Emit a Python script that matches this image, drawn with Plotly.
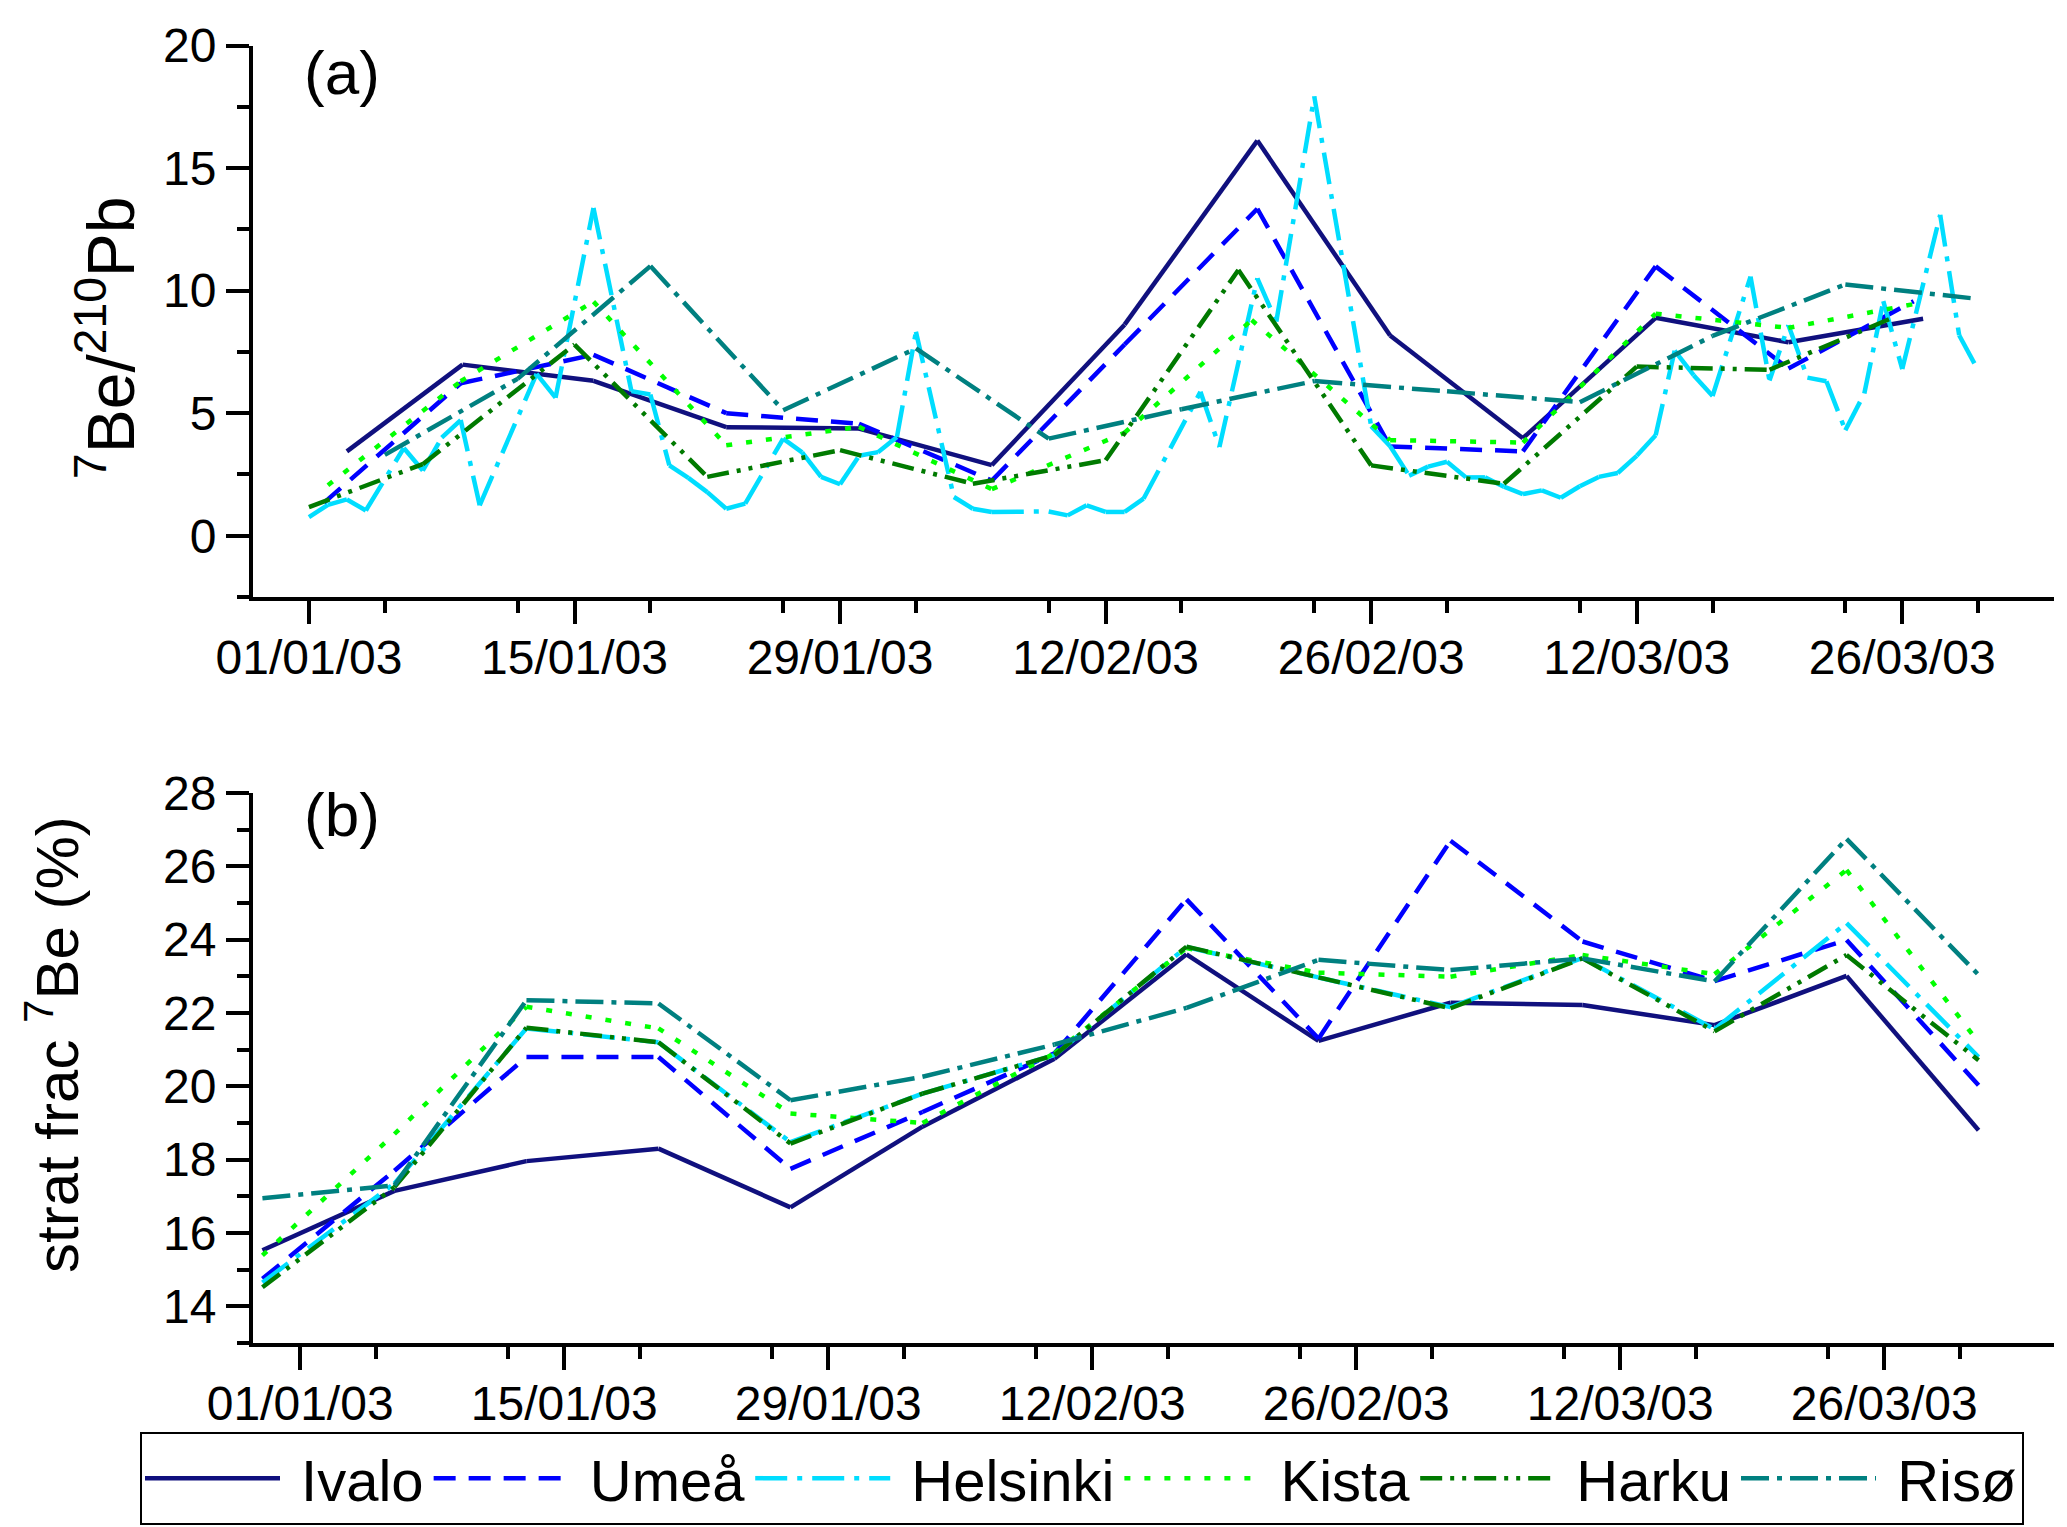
import pandas as pd
import plotly.graph_objects as go

BASE = pd.Timestamp("2003-01-01")
stations = ["Ivalo", "Umeå", "Helsinki", "Kista", "Harku", "Risø"]
colors = ["#10107E", "#0000FF", "#00DDFF", "#00FF00", "#007A00", "#008080"]
dashes = ["solid", "22px,13px", "32px,10px,5px,10px", "6px,14px",
          "22px,8px,4px,8px,4px,8px", "28px,8px,5px,8px"]

# ---- panel (a): 7Be/210Pb, x = days after 01/01/03 ----
ivalo_a_day = [2, 8.1, 15, 22, 29, 36, 43, 50, 57, 64, 71, 78, 85.1]
ivalo_a = [3.44, 6.98, 6.32, 4.43, 4.37, 2.88, 8.61, 16.12, 8.17, 3.98, 8.89, 7.89, 8.85]
umea_a_day = [0.8, 8, 15, 22, 29, 36, 43, 50, 57, 64, 71, 78, 84.6]
umea_a = [1.35, 6.22, 7.38, 5.0, 4.57, 2.25, 7.8, 13.34, 3.64, 3.44, 10.99, 6.82, 9.57]
helsinki_a_day = [0, 1, 2, 3, 5, 6, 7, 8, 9, 12, 13, 15, 17, 18, 19, 20, 21, 22, 23,
                  25, 26, 27, 28, 29, 30, 31, 32, 34, 35, 36, 39, 40, 41, 42, 43, 44,
                  47, 48, 50, 51, 53, 56, 57, 58, 59, 60, 61, 62, 63, 64, 65, 66, 67,
                  68, 69, 70, 71, 72, 73, 74, 76, 77, 78, 79, 80, 81, 82, 83, 84, 86, 87, 88]
helsinki_a = [0.76, 1.26, 1.48, 1.03, 3.58, 2.66, 4.0, 4.72, 1.24, 6.6, 5.63, 13.37,
              5.9, 5.76, 2.87, 2.36, 1.78, 1.10, 1.31, 3.96, 3.4, 2.4, 2.1, 3.26, 3.41,
              4.03, 8.32, 1.58, 1.10, 0.97, 0.99, 0.83, 1.24, 0.97, 0.97, 1.51, 5.87,
              3.62, 10.5, 8.73, 17.92, 4.47, 3.65, 2.45, 2.82, 3.02, 2.38, 2.38, 2.0,
              1.7, 1.85, 1.55, 2.02, 2.4, 2.56, 3.26, 4.1, 7.55, 6.55, 5.7, 10.57, 6.33,
              8.59, 6.45, 6.3, 4.3, 5.8, 9.57, 6.8, 13.09, 8.18, 6.75]
kista_a_day = [1, 8, 15, 22, 29, 36, 43, 49.7, 57, 64, 71, 78, 84.6]
kista_a = [2.06, 6.3, 9.55, 3.69, 4.44, 1.9, 4.2, 8.8, 3.9, 3.8, 9.06, 8.48, 9.45]
harku_a_day = [0, 6, 14, 21, 28, 35, 42, 49, 56, 63, 70, 77, 83.3]
harku_a = [1.17, 2.92, 7.8, 2.4, 3.49, 2.12, 3.08, 10.84, 2.87, 2.12, 6.9, 6.77, 8.83]
riso_a_day = [4, 11, 18, 25, 32, 39, 46, 53, 60, 67, 74, 81, 88]
riso_a = [3.3, 6.4, 11.0, 5.12, 7.64, 3.96, 5.16, 6.31, 5.89, 5.45, 8.15, 10.25, 9.66]

# ---- panel (b): stratospheric fraction of 7Be (%), weekly ----
b_day = [-2, 5, 12, 19, 26, 33, 40, 47, 54, 61, 68, 75, 82, 89]
ivalo_b = [15.53, 17.15, 17.96, 18.3, 16.7, 18.9, 20.75, 23.6, 21.24, 22.28, 22.22, 21.67, 23.01, 18.8]
umea_b = [14.75, 17.7, 20.8, 20.8, 17.75, 19.3, 20.9, 25.1, 21.3, 26.7, 23.95, 22.87, 23.99, 20.03]
helsinki_b = [14.65, 17.35, 21.58, 21.2, 18.48, 19.8, 20.85, 23.8, 22.97, 22.16, 23.5, 21.56, 24.45, 20.8]
kista_b = [15.39, 18.7, 22.17, 21.58, 19.26, 19.0, 20.9, 23.77, 23.1, 22.99, 23.58, 23.06, 25.9, 21.2]
harku_b = [14.52, 17.25, 21.6, 21.2, 18.44, 19.8, 20.85, 23.81, 22.97, 22.13, 23.49, 21.5, 23.58, 20.71]
riso_b = [16.95, 17.3, 22.35, 22.26, 19.62, 20.26, 21.14, 22.14, 23.45, 23.17, 23.49, 22.86, 26.75, 23.04]

panel_a = [(ivalo_a_day, ivalo_a), (umea_a_day, umea_a), (helsinki_a_day, helsinki_a),
           (kista_a_day, kista_a), (harku_a_day, harku_a), (riso_a_day, riso_a)]
panel_b = [(b_day, v) for v in (ivalo_b, umea_b, helsinki_b, kista_b, harku_b, riso_b)]


def to_dates(days):
    return BASE + pd.to_timedelta(days, unit="D")


FONT = "Liberation Sans, Arial, sans-serif"
W, H = 2067, 1527
LW = 4.5

fig = go.Figure()


def add_series(days, vals, i, xa, ya, legend):
    """Draw segment by segment so the dash pattern restarts at every sample
    (as in the original plotting program)."""
    dates = to_dates(days)
    for k in range(len(days) - 1):
        fig.add_trace(go.Scatter(
            x=dates[k:k + 2], y=vals[k:k + 2], mode="lines",
            name="\u00a0" + stations[i], legendgroup=stations[i],
            showlegend=(legend and k == 0), hoverinfo="x+y",
            line=dict(color=colors[i], width=LW, dash=dashes[i]),
            xaxis=xa, yaxis=ya))


for i in range(len(stations)):
    add_series(*panel_a[i], i, "x", "y", False)
for i in range(len(stations)):
    add_series(*panel_b[i], i, "x2", "y2", True)

xl, xr = 245 / W, 2046 / W
ax_common = dict(showline=True, linecolor="black", linewidth=4, ticks="outside",
                 ticklen=23, tickwidth=4, tickcolor="black", showgrid=False,
                 zeroline=False, automargin=False,
                 tickfont=dict(family=FONT, size=48, color="black"))
xcommon = dict(ax_common, type="date", tick0="2003-01-01", dtick=14 * 86400000,
               tickformat="%d/%m/%y", ticklabelstandoff=-8,
               minor=dict(dtick=7 * 86400000, ticklen=12, tickwidth=4,
                          tickcolor="black", ticks="outside", showgrid=False))

fig.update_layout(
    width=W, height=H, autosize=False,
    margin=dict(l=0, r=0, t=0, b=0, pad=0),
    paper_bgcolor="white", plot_bgcolor="white",
    xaxis=dict(xcommon, domain=[xl, xr], anchor="y",
               range=["2002-12-29 01:12", "2003-04-03 00:00"]),
    yaxis=dict(ax_common, domain=[1 - 589 / H, 1 - 37.5 / H], anchor="x",
               range=[-2.5, 20], tick0=0, dtick=5,
               minor=dict(dtick=2.5, ticklen=12, tickwidth=4, tickcolor="black",
                          ticks="outside", showgrid=False)),
    xaxis2=dict(xcommon, domain=[xl, xr], anchor="y2",
                range=["2002-12-29 12:00", "2003-04-04 00:00"]),
    yaxis2=dict(ax_common, domain=[1 - 1335 / H, 1 - 785 / H], anchor="x2",
                range=[13, 28], tick0=14, dtick=2,
                minor=dict(dtick=1, ticklen=12, tickwidth=4, tickcolor="black",
                           ticks="outside", showgrid=False)),
    legend=dict(orientation="h", x=132 / W, y=1 - 1424 / H, xanchor="left",
                yanchor="top", bordercolor="black", borderwidth=2,
                bgcolor="white", font=dict(family=FONT, size=58, color="black"),
                itemwidth=135, tracegroupgap=0),
    annotations=[
        dict(text="<sup>7</sup>Be/<sup>210</sup>Pb", xref="paper", yref="paper",
             x=98 / W, y=1 - 330 / H, xanchor="center", yanchor="middle",
             textangle=-90, showarrow=False,
             font=dict(family=FONT, size=66, color="black")),
        dict(text="strat frac <sup>7</sup>Be (%)", xref="paper", yref="paper",
             x=45 / W, y=1 - 1037 / H, xanchor="center", yanchor="middle",
             textangle=-90, showarrow=False,
             font=dict(family=FONT, size=60, color="black")),
        dict(text="(a)", xref="paper", yref="paper", x=294 / W, y=1 - 28 / H,
             xanchor="left", yanchor="top", showarrow=False,
             font=dict(family=FONT, size=62, color="black")),
        dict(text="(b)", xref="paper", yref="paper", x=294 / W, y=1 - 770 / H,
             xanchor="left", yanchor="top", showarrow=False,
             font=dict(family=FONT, size=62, color="black")),
    ],
)

fig.write_html("out.html")
